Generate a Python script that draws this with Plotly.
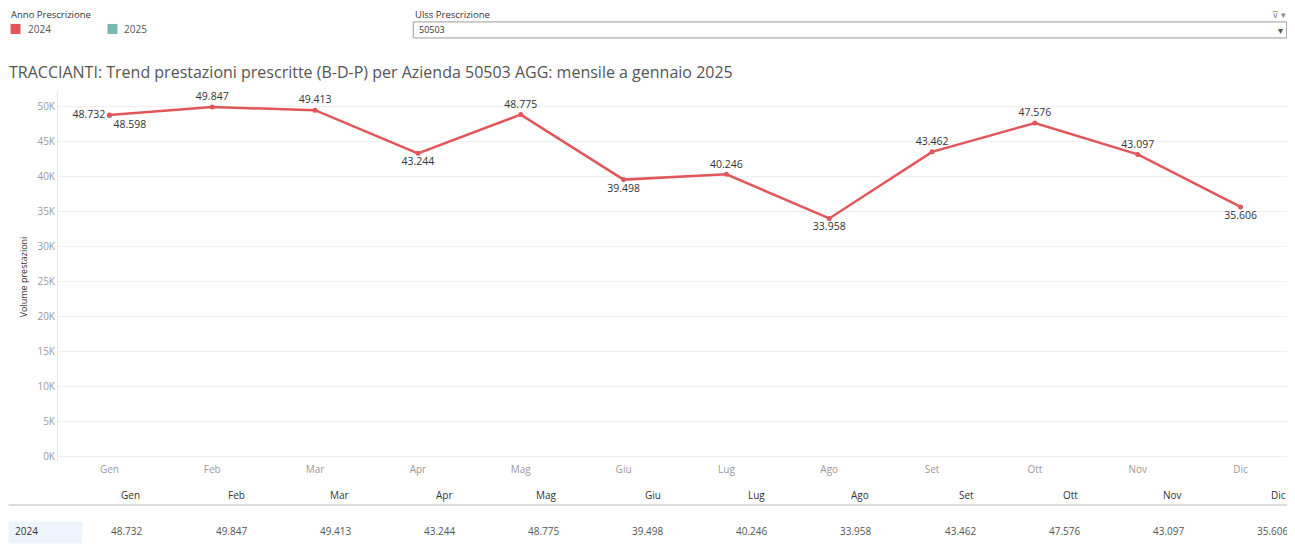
import plotly.graph_objects as go

months = ["Gen", "Feb", "Mar", "Apr", "Mag", "Giu", "Lug", "Ago", "Set", "Ott", "Nov", "Dic"]
vol_2024 = [48732, 49847, 49413, 43244, 48775, 39498, 40246, 33958, 43462, 47576, 43097, 35606]
months_2025 = ["Gen"]
vol_2025 = [48598]
label_pos_2024 = ["middle left", "top center", "top center", "bottom center", "top center",
                  "bottom center", "top center", "bottom center", "top center", "top center",
                  "top center", "bottom center"]
y_ticks = [0, 5000, 10000, 15000, 20000, 25000, 30000, 35000, 40000, 45000, 50000]
y_ticklabels = ["0K", "5K", "10K", "15K", "20K", "25K", "30K", "35K", "40K", "45K", "50K"]

RED = "#E15759"
TEAL = "#76B7B2"
FONT = "Open Sans"


def fmt(v):
    return f"{v:,}".replace(",", ".")


# the page body has an 8px margin, so work in window pixels and offset
OFF = 8
W, H = 1295 - OFF, 557 - OFF
L_PX, R_PX = 57.5, 1292.3      # window pixel positions of plot area
T_PX, B_PX = 92.0, 461.6

fig = go.Figure()
fig.add_trace(go.Scatter(
    x=months_2025, y=vol_2025, mode="markers+text",
    marker=dict(color=TEAL, size=5),
    text=[fmt(v) for v in vol_2025], textposition="bottom right",
    textfont=dict(family=FONT, size=10.5, color="#333"),
    showlegend=False, cliponaxis=False, hoverinfo="x+y",
))
fig.add_trace(go.Scatter(
    x=months, y=vol_2024, mode="lines+markers+text",
    line=dict(color=RED, width=2.5),
    marker=dict(color=RED, size=5),
    text=[fmt(v) for v in vol_2024], textposition=label_pos_2024,
    textfont=dict(family=FONT, size=10.5, color="#333"),
    showlegend=False, cliponaxis=False, hoverinfo="x+y",
))

fig.update_layout(
    width=W, height=H,
    margin=dict(l=L_PX - OFF, r=1295 - R_PX, t=T_PX - OFF, b=557 - B_PX, pad=0, autoexpand=False),
    paper_bgcolor="white", plot_bgcolor="white",
    font=dict(family=FONT, color="#333"),
    title=dict(
        text="TRACCIANTI: Trend prestazioni prescritte (B-D-P) per Azienda 50503 AGG: mensile a gennaio 2025",
        x=(9 - OFF) / W, xanchor="left", xref="container",
        y=1 - (72 - OFF) / H, yanchor="middle", yref="container",
        font=dict(family=FONT, size=16, color="#555"),
    ),
    xaxis=dict(
        type="category", categoryorder="array", categoryarray=months,
        range=[-0.5, 11.5], showgrid=False, zeroline=False, showline=False,
        ticks="", tickfont=dict(family=FONT, size=10, color="#9a9a9a"),
        fixedrange=True, automargin=False,
    ),
    yaxis=dict(
        range=[-800, 52000], tickvals=y_ticks, ticktext=y_ticklabels,
        showgrid=True, gridcolor="#f0f0f0", gridwidth=1, zeroline=False,
        showline=True, linecolor="#e6e6e6", linewidth=1,
        ticks="", tickfont=dict(family=FONT, size=10, color="#9a9a9a"),
        title=dict(text="Volume prestazioni", font=dict(family=FONT, size=9, color="#333"), standoff=8),
        fixedrange=True, automargin=False,
    ),
)


def px_x(px):
    return (px - L_PX) / (R_PX - L_PX)


def px_y(py):
    return (B_PX - py) / (B_PX - T_PX)


shapes = []
ann = []

TOP_Y = 14.5

# Legend header
ann.append(dict(text="Anno Prescrizione", x=px_x(8), y=px_y(TOP_Y), xref="paper", yref="paper",
                xanchor="left", yanchor="middle", showarrow=False,
                font=dict(family=FONT, size=9.5, color="#333")))
for sx, col, lab in [(10, RED, "2024"), (107, TEAL, "2025")]:
    shapes.append(dict(type="rect", xref="paper", yref="paper",
                       x0=px_x(sx), x1=px_x(sx + 10), y0=px_y(34), y1=px_y(24),
                       fillcolor=col, line=dict(width=0)))
    ann.append(dict(text=lab, x=px_x(sx + 15), y=px_y(29), xref="paper", yref="paper",
                    xanchor="left", yanchor="middle", showarrow=False,
                    font=dict(family=FONT, size=10, color="#555")))

# Filter box
ann.append(dict(text="Ulss Prescrizione", x=px_x(413), y=px_y(TOP_Y), xref="paper", yref="paper",
                xanchor="left", yanchor="middle", showarrow=False,
                font=dict(family=FONT, size=9.5, color="#333")))
shapes.append(dict(type="rect", xref="paper", yref="paper",
                   x0=px_x(413), x1=px_x(1287), y0=px_y(38), y1=px_y(22),
                   fillcolor="white", line=dict(color="#9a9a9a", width=1)))
ann.append(dict(text="50503", x=px_x(417), y=px_y(30), xref="paper", yref="paper",
                xanchor="left", yanchor="middle", showarrow=False,
                font=dict(family=FONT, size=9, color="#333")))
ann.append(dict(text="▾", x=px_x(1281), y=px_y(30), xref="paper", yref="paper",
                xanchor="center", yanchor="middle", showarrow=False,
                font=dict(family=FONT, size=10, color="#555")))
ann.append(dict(text="⊽ ▾", x=px_x(1288), y=px_y(TOP_Y), xref="paper", yref="paper",
                xanchor="right", yanchor="middle", showarrow=False,
                font=dict(family=FONT, size=9, color="#888")))

# Table header and row
shapes.append(dict(type="line", xref="paper", yref="paper",
                   x0=px_x(8), x1=px_x(1290), y0=px_y(504.5), y1=px_y(504.5),
                   line=dict(color="#dcdcdc", width=2)))
shapes.append(dict(type="rect", xref="paper", yref="paper",
                   x0=px_x(8), x1=px_x(82), y0=px_y(543), y1=px_y(521),
                   fillcolor="#eef4fb", line=dict(width=0)))
ann.append(dict(text="2024", x=px_x(12), y=px_y(531), xref="paper", yref="paper",
                xanchor="left", yanchor="middle", showarrow=False,
                font=dict(family=FONT, size=10, color="#333")))
for i, m in enumerate(months):
    rx = 142 + i * 104.2
    ann.append(dict(text=m, x=px_x(rx), y=px_y(495), xref="paper", yref="paper",
                    xanchor="right", yanchor="middle", showarrow=False,
                    font=dict(family=FONT, size=10, color="#333")))
    ann.append(dict(text=fmt(vol_2024[i]), x=px_x(rx + 2), y=px_y(531), xref="paper", yref="paper",
                    xanchor="right", yanchor="middle", showarrow=False,
                    font=dict(family=FONT, size=10, color="#555")))

fig.update_layout(shapes=shapes, annotations=ann)
fig.write_html("out.html")
